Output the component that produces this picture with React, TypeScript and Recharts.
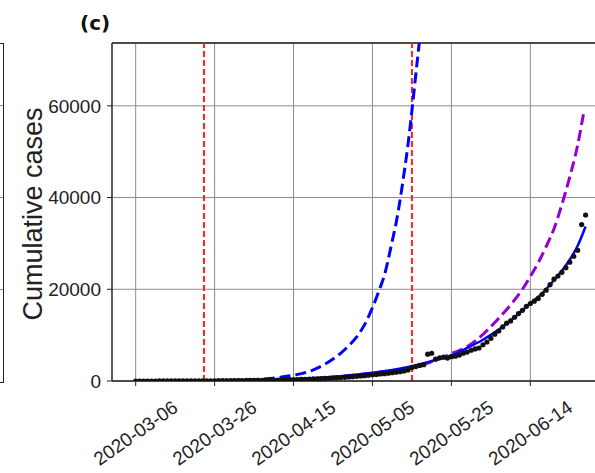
import {
  ComposedChart,
  Line,
  Scatter,
  XAxis,
  YAxis,
  CartesianGrid,
  ReferenceLine,
} from "recharts";

// ── Data (x = days since 2020-03-06) ────────────────────────────────

const tickDays = [0, 20, 40, 60, 80, 100];
const tickLabels = ["2020-03-06", "2020-03-26", "2020-04-15", "2020-05-05", "2020-05-25", "2020-06-14"];
const yTicks = [0, 20000, 40000, 60000];
const Y_MAX = 73700;

// vertical markers (red dashed)
const markerDays = [17.3, 70];

// observed cumulative cases, one per day starting at day 0
const observedCases = [
  1, 1, 2, 2, 3, 5, 7, 9, 11, 12,
  15, 17, 19, 22, 26, 29, 32, 36, 41, 47,
  55, 61, 68, 74, 83, 90, 98, 107, 115, 124,
  133, 144, 156, 168, 181, 195, 212, 233, 258, 284,
  310, 331, 358, 384, 412, 445, 482, 521, 566, 604,
  650, 690, 765, 812, 884, 938, 1021, 1087, 1165, 1262,
  1346, 1437, 1525, 1598, 1702, 1796, 1913, 2027, 2205, 2397,
  2950, 3150, 3400, 3560, 5850, 6050, 4750, 5050, 5200, 5000,
  5300, 5400, 5650, 6050, 6300, 6700, 7000, 7200, 7900, 8500,
  9300, 10200, 10900, 11800, 12600, 13100, 13900, 14700, 15400, 16300,
  16900, 17400, 18000, 18900, 19800, 21000, 22200, 22900, 23700, 24700,
  25900, 27200, 28500, 34100, 36200,
];

// early fit (blue dashed)
const earlyFitDays = [0, 10, 20, 25, 30, 34, 37, 40, 42, 44, 46, 48, 50, 52, 54, 56, 58, 60, 62, 63, 64, 65, 66, 67, 68, 69, 70, 71, 72, 73];
const earlyFitVals = [10, 30, 90, 160, 300, 550, 850, 1250, 1600, 2100, 2800, 3700, 4800, 6100, 7700, 9600, 12300, 16000, 20500, 23000, 26500, 30500, 34500, 39500, 45300, 51500, 59000, 67000, 75000, 84000];

// second fit (purple dashed)
const midFitDays = [0, 20, 30, 40, 50, 55, 60, 65, 70, 72, 74, 76, 78, 80, 83, 86, 89, 92, 95, 98, 100, 102, 104, 106, 108, 110, 112, 113.5];
const midFitVals = [5, 40, 120, 330, 850, 1250, 1750, 2300, 2900, 3300, 3900, 4600, 5200, 6000, 7000, 8700, 11000, 13700, 16600, 20000, 22800, 25800, 29300, 33200, 38500, 44500, 51500, 58400];

// final fit (blue solid)
const lateFitDays = [0, 20, 30, 40, 50, 55, 60, 65, 70, 73, 76, 80, 84, 88, 92, 96, 100, 103, 106, 109, 112, 114];
const lateFitVals = [2, 40, 140, 400, 900, 1300, 1800, 2400, 3200, 3900, 4600, 5600, 7200, 9000, 11200, 13900, 16900, 19100, 22000, 25200, 29500, 33700];

const zip = (days: number[], vals: number[]) => days.map((d, i) => ({ day: d, v: vals[i] }));
const observedData = observedCases.map((v, i) => ({ day: i, v }));
const earlyFit = zip(earlyFitDays, earlyFitVals);
const midFit = zip(midFitDays, midFitVals);
const lateFit = zip(lateFitDays, lateFitVals);

const FONT = "'Liberation Sans', Arial, sans-serif";
const INK = "#222";

function DateTick(props: any) {
  const { x, y, payload } = props;
  const idx = tickDays.indexOf(payload.value);
  const cy = y + 45;
  return (
    <text
      x={x}
      y={cy}
      transform={`rotate(-35 ${x} ${cy})`}
      textAnchor="middle"
      dominantBaseline="central"
      fontSize={19}
      fontFamily={FONT}
      fill={INK}
    >
      {idx >= 0 ? tickLabels[idx] : ""}
    </text>
  );
}

function YTitle() {
  return (
    <text
      x={33}
      y={214}
      transform="rotate(-90 33 214)"
      textAnchor="middle"
      dominantBaseline="central"
      fontSize={27}
      fontFamily={FONT}
      fill={INK}
    >
      Cumulative cases
    </text>
  );
}

export default function App() {
  return (
    <div
      style={{
        position: "fixed",
        left: 0,
        top: 0,
        width: 595,
        height: 473,
        overflow: "hidden",
        background: "#fff",
      }}
    >
      {/* right edge of the neighbouring panel */}
      <div
        style={{
          position: "absolute",
          left: -10,
          top: 43,
          width: 13,
          height: 338,
          borderTop: `1px solid ${INK}`,
          borderRight: `1px solid ${INK}`,
          borderBottom: `1px solid ${INK}`,
        }}
      />
      {[105, 197, 289].map((t) => (
        <div key={t} style={{ position: "absolute", left: 0, top: t, width: 3, height: 1, background: "#8c8c8c" }} />
      ))}

      <div
        style={{
          position: "absolute",
          left: 80,
          top: 11,
          fontFamily: "'DejaVu Sans', sans-serif",
          fontWeight: 700,
          fontSize: 20,
          color: "#111",
        }}
      >
        (c)
      </div>

      <ComposedChart width={640} height={473} margin={{ top: 43, right: 11, bottom: 0, left: 0 }}>
        <CartesianGrid stroke="#8c8c8c" strokeWidth={1} />
        <XAxis
          type="number"
          dataKey="day"
          domain={[-6, 125]}
          ticks={tickDays}
          allowDataOverflow
          height={92}
          tick={<DateTick />}
          tickSize={5}
          axisLine={{ stroke: INK, strokeWidth: 1.3 }}
          tickLine={{ stroke: INK }}
        />
        <YAxis
          type="number"
          dataKey="v"
          domain={[0, Y_MAX]}
          ticks={yTicks}
          allowDataOverflow
          width={112}
          tickSize={5}
          tickMargin={6}
          tick={{ fontSize: 19, fill: INK, fontFamily: FONT }}
          axisLine={{ stroke: INK, strokeWidth: 1.3 }}
          tickLine={{ stroke: INK }}
          label={{ content: () => <YTitle /> }}
        />
        <ReferenceLine y={Y_MAX} stroke={INK} strokeWidth={1.3} />
        {markerDays.map((d) => (
          <ReferenceLine key={d} x={d} stroke="#ff2020" strokeWidth={2} strokeDasharray="6 3" />
        ))}
        <Line
          data={earlyFit}
          dataKey="v"
          type="monotone"
          stroke="#0000ff"
          strokeWidth={3}
          strokeDasharray="11 5"
          dot={false}
          isAnimationActive={false}
        />
        <Line
          data={midFit}
          dataKey="v"
          type="monotone"
          stroke="#9400d3"
          strokeWidth={3}
          strokeDasharray="11 5"
          dot={false}
          isAnimationActive={false}
        />
        <Line
          data={lateFit}
          dataKey="v"
          type="monotone"
          stroke="#0000ff"
          strokeWidth={2.5}
          dot={false}
          isAnimationActive={false}
        />
        <Scatter
          data={observedData}
          dataKey="v"
          isAnimationActive={false}
          shape={(p: any) => <circle cx={p.cx} cy={p.cy} r={2.6} fill="#111" />}
        />
      </ComposedChart>
    </div>
  );
}
